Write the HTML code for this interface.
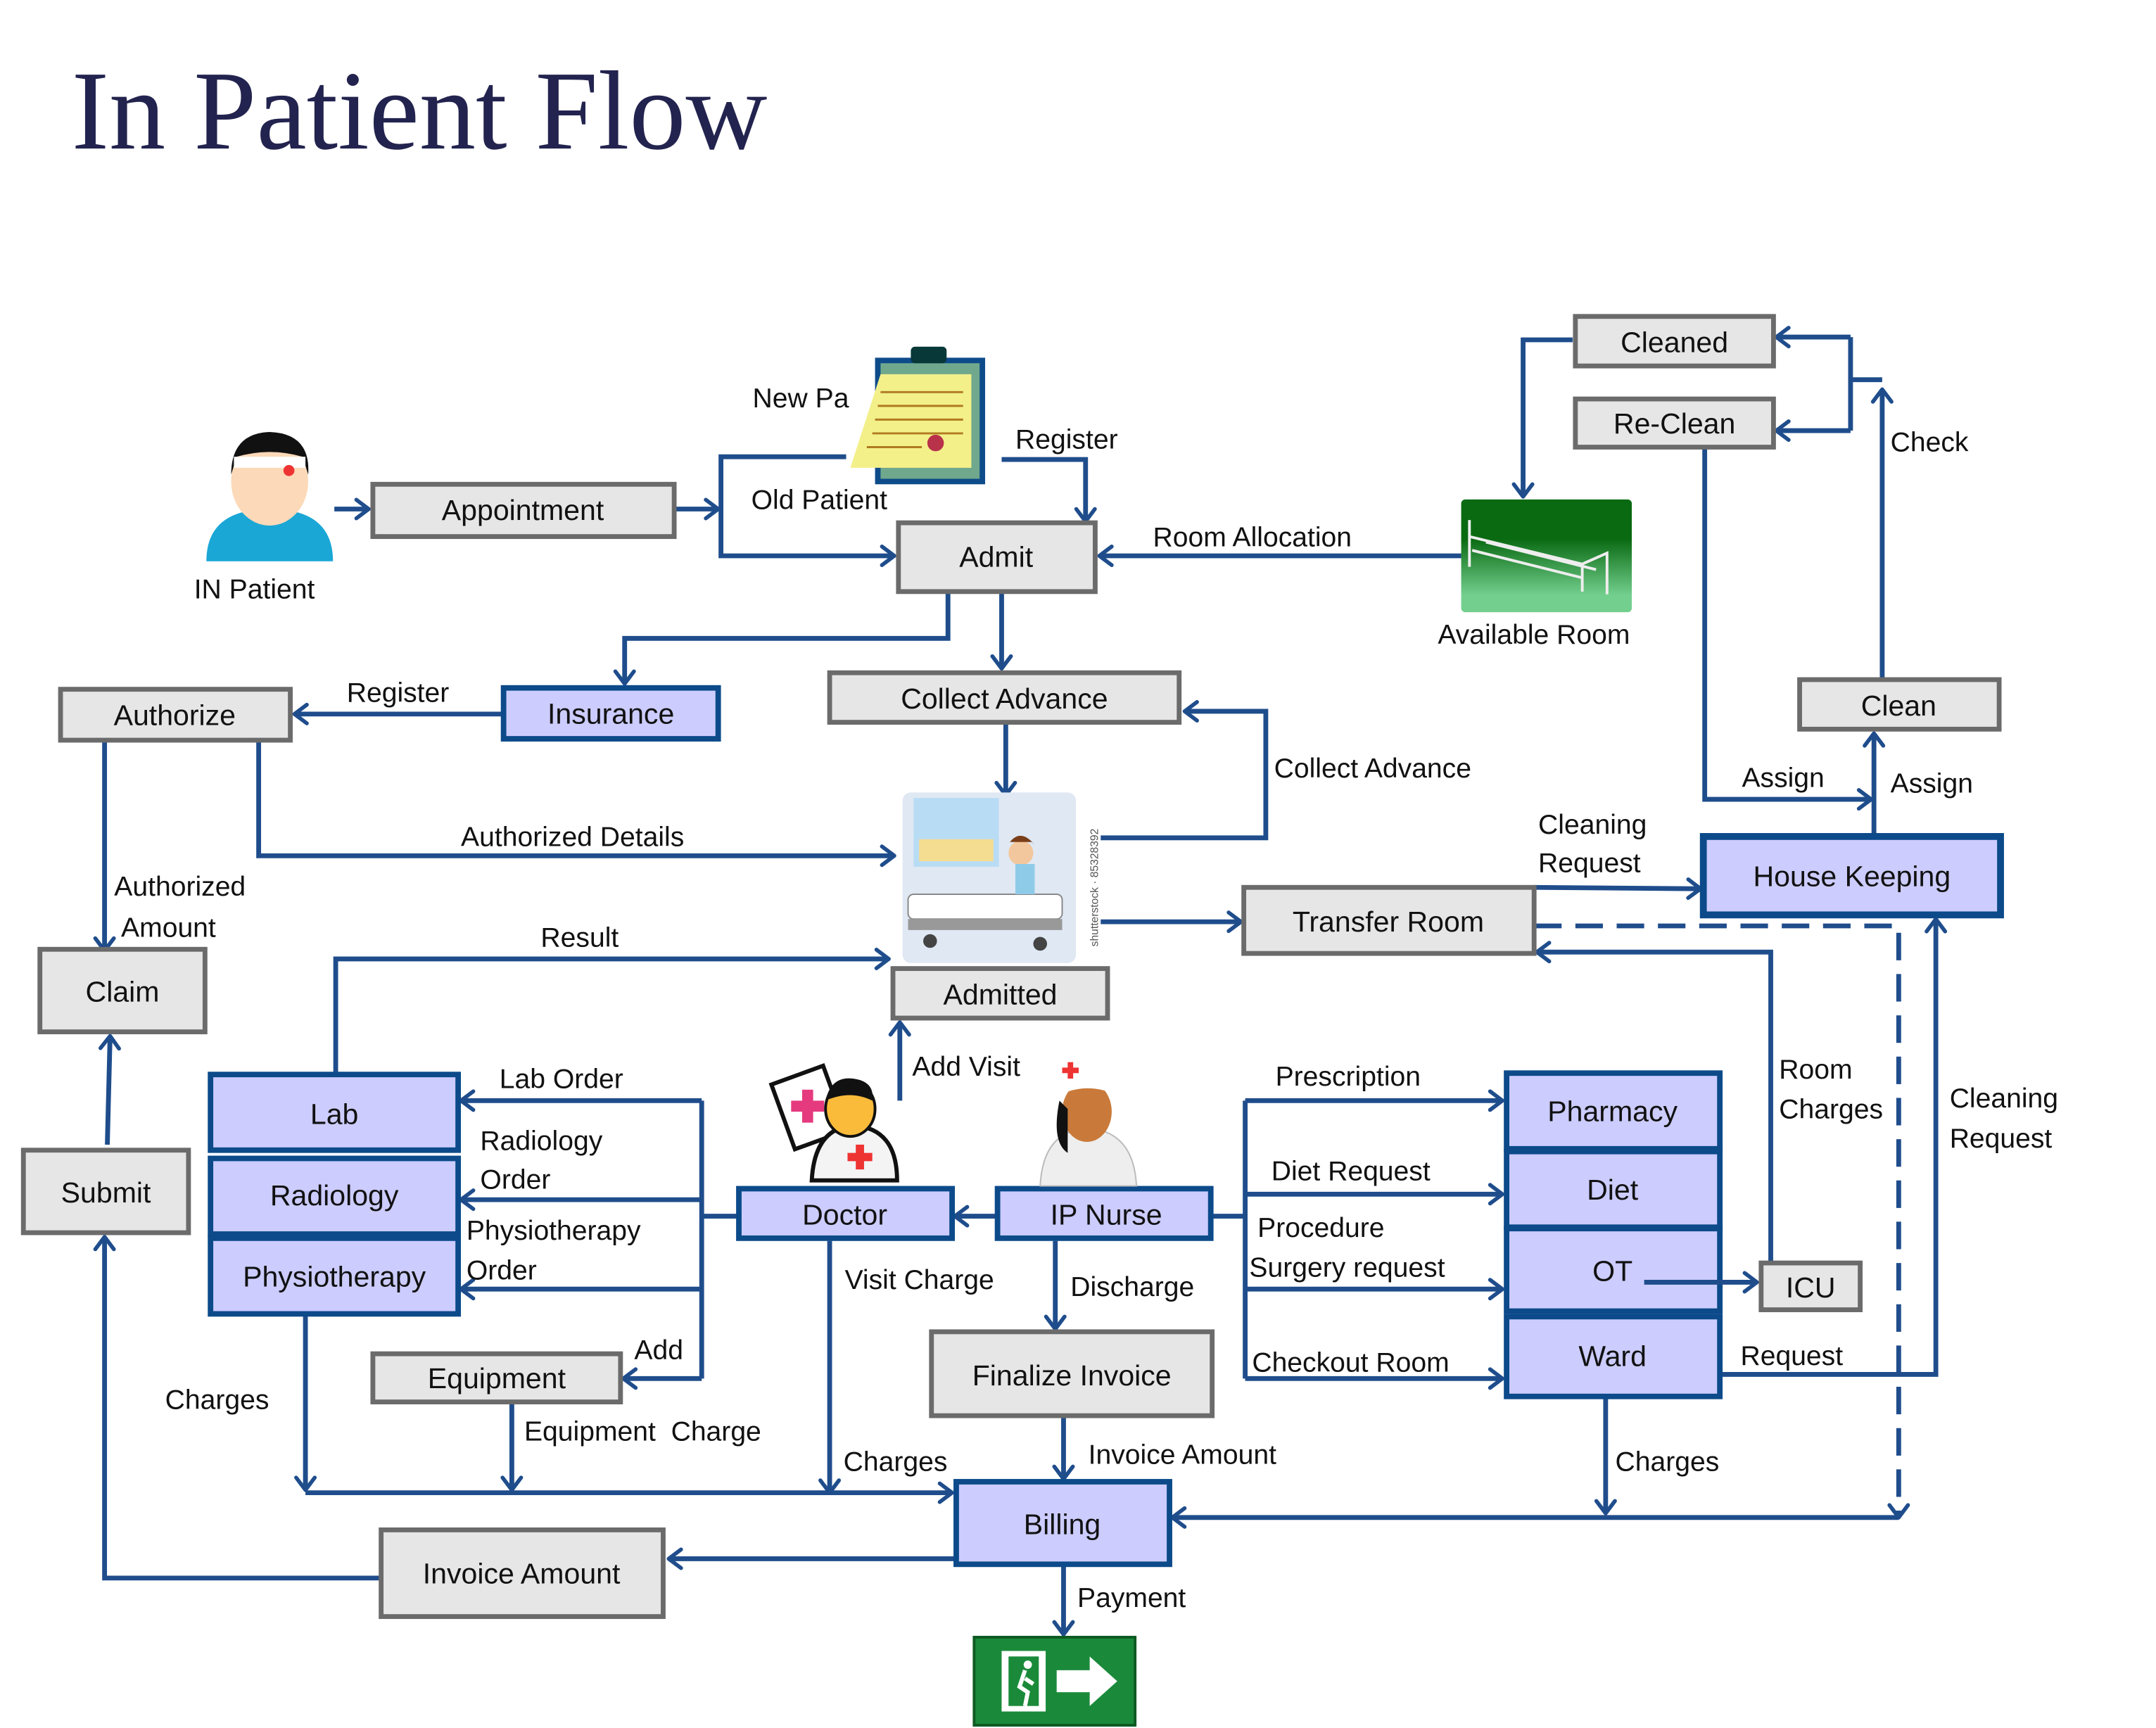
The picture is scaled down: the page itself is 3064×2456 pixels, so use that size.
<!DOCTYPE html>
<html><head><meta charset="utf-8"><style>
html,body{margin:0;padding:0;background:#fff;}
svg{display:block;}
text{font-family:"Liberation Sans",sans-serif;font-size:20px;fill:#111;}
.g{fill:#e6e6e6;stroke:#6b6b6b;stroke-width:3.5;}
.b{fill:#ccccff;stroke:#0c4a8a;stroke-width:4;}
.l{fill:none;stroke:#1f4d8c;stroke-width:3.5;}
.c{text-anchor:middle;font-size:21px;}
</style></head><body>
<svg width="3064" height="2456" viewBox="0 0 1567 1256" preserveAspectRatio="none" xmlns="http://www.w3.org/2000/svg">
<defs>
<marker id="a" viewBox="0 0 20 24" refX="17" refY="12" markerWidth="15" markerHeight="20" orient="auto" markerUnits="userSpaceOnUse">
<path d="M5,3 L17,12 L5,21" fill="none" stroke="#1f4d8c" stroke-width="3.8" stroke-linecap="round" stroke-linejoin="round"/>
</marker>
</defs>
<text x="52" y="108" style="font-family:'Liberation Serif',serif;font-size:82px;fill:#23234f;">In Patient Flow</text>

<g>
<polyline class="l" points="243,370 268,370" marker-end="url(#a)"/>
<polyline class="l" points="490,370 522,370" marker-end="url(#a)"/>
<polyline class="l" points="615,332 524,332 524,404 650,404" marker-end="url(#a)"/>
<polyline class="l" points="728,334 789,334 789,379" marker-end="url(#a)"/>
<polyline class="l" points="1062,404 799,404" marker-end="url(#a)"/>
<polyline class="l" points="689,430 689,464 454,464 454,497" marker-end="url(#a)"/>
<polyline class="l" points="728,430 728,486" marker-end="url(#a)"/>
<polyline class="l" points="731,525 731,578" marker-end="url(#a)"/>
<polyline class="l" points="800,609 920,609 920,517 861,517" marker-end="url(#a)"/>
<polyline class="l" points="366,519 214,519" marker-end="url(#a)"/>
<polyline class="l" points="76,538 76,691" marker-end="url(#a)"/>
<polyline class="l" points="188,538 188,622 650,622" marker-end="url(#a)"/>
<polyline class="l" points="244,781 244,697 646,697" marker-end="url(#a)"/>
<polyline class="l" points="654,800 654,743" marker-end="url(#a)"/>
<polyline class="l" points="78,832 80,753" marker-end="url(#a)"/>
<polyline class="l" points="800,670 902,670" marker-end="url(#a)"/>
<polyline class="l" points="1115,645 1236,646" marker-end="url(#a)"/>
<polyline class="l" points="1115,673 1380,673 1380,1103" stroke-dasharray="20,10" marker-end="url(#a)"/>
<polyline class="l" points="1362,608 1362,533" marker-end="url(#a)"/>
<polyline class="l" points="1368,494 1368,283" marker-end="url(#a)"/>
<polyline class="l" points="1368,276 1345,276"/>
<polyline class="l" points="1345,245 1345,313"/>
<polyline class="l" points="1345,245 1291,245" marker-end="url(#a)"/>
<polyline class="l" points="1345,313 1291,313" marker-end="url(#a)"/>
<polyline class="l" points="1143,247 1107,247 1107,361" marker-end="url(#a)"/>
<polyline class="l" points="1239,325 1239,581 1360,581" marker-end="url(#a)"/>
<polyline class="l" points="1287,918 1287,692 1117,692" marker-end="url(#a)"/>
<polyline class="l" points="1210,999 1407,999 1407,668" marker-end="url(#a)"/>
<polyline class="l" points="536,884 510,884"/>
<polyline class="l" points="510,800 510,1002"/>
<polyline class="l" points="510,800 335,800" marker-end="url(#a)"/>
<polyline class="l" points="510,872 335,872" marker-end="url(#a)"/>
<polyline class="l" points="510,937 335,937" marker-end="url(#a)"/>
<polyline class="l" points="510,1002 453,1002" marker-end="url(#a)"/>
<polyline class="l" points="725,884 694,884" marker-end="url(#a)"/>
<polyline class="l" points="767,902 767,966" marker-end="url(#a)"/>
<polyline class="l" points="880,884 905,884"/>
<polyline class="l" points="905,800 905,1002"/>
<polyline class="l" points="905,800 1092,800" marker-end="url(#a)"/>
<polyline class="l" points="905,868 1092,868" marker-end="url(#a)"/>
<polyline class="l" points="905,937 1092,937" marker-end="url(#a)"/>
<polyline class="l" points="905,1002 1092,1002" marker-end="url(#a)"/>
<polyline class="l" points="222,955 222,1083" marker-end="url(#a)"/>
<polyline class="l" points="372,1019 372,1083" marker-end="url(#a)"/>
<polyline class="l" points="603,902 603,1085" marker-end="url(#a)"/>
<polyline class="l" points="222,1085 692,1085" marker-end="url(#a)"/>
<polyline class="l" points="773,1029 773,1075" marker-end="url(#a)"/>
<polyline class="l" points="1167,1015 1167,1100" marker-end="url(#a)"/>
<polyline class="l" points="1380,1103 852,1103" marker-end="url(#a)"/>
<polyline class="l" points="695,1133 486,1133" marker-end="url(#a)"/>
<polyline class="l" points="277,1147 76,1147 76,899" marker-end="url(#a)"/>
<polyline class="l" points="773,1137 773,1188" marker-end="url(#a)"/>
</g>

<rect class="g" x="271" y="352" width="219" height="38"/><text class="c" x="380" y="378">Appointment</text>
<rect class="g" x="653" y="380" width="143" height="50"/><text class="c" x="724" y="412">Admit</text>
<rect class="g" x="603" y="489" width="254" height="36"/><text class="c" x="730" y="515">Collect Advance</text>
<rect class="b" x="366" y="500" width="156" height="37"/><text class="c" x="444" y="526">Insurance</text>
<rect class="g" x="44" y="501" width="167" height="37"/><text class="c" x="127" y="527">Authorize</text>
<rect class="g" x="29" y="690" width="120" height="60"/><text class="c" x="89" y="728">Claim</text>
<rect class="g" x="17" y="836" width="120" height="60"/><text class="c" x="77" y="874">Submit</text>
<rect class="g" x="649" y="704" width="156" height="36"/><text class="c" x="727" y="730">Admitted</text>
<rect class="g" x="904" y="645" width="211" height="48"/><text class="c" x="1009" y="677">Transfer Room</text>
<rect class="b" x="1238" y="608" width="216" height="57" style="stroke-width:5"/><text class="c" x="1346" y="644">House Keeping</text>
<rect class="g" x="1308" y="494" width="145" height="36"/><text class="c" x="1380" y="520">Clean</text>
<rect class="g" x="1145" y="230" width="144" height="36"/><text class="c" x="1217" y="256">Cleaned</text>
<rect class="g" x="1145" y="290" width="144" height="35"/><text class="c" x="1217" y="315">Re-Clean</text>
<rect class="g" x="1280" y="918" width="72" height="34"/><text class="c" x="1316" y="943">ICU</text>
<rect class="b" x="153" y="781" width="180" height="55"/><text class="c" x="243" y="817">Lab</text>
<rect class="b" x="153" y="842" width="180" height="55"/><text class="c" x="243" y="876">Radiology</text>
<rect class="b" x="153" y="900" width="180" height="55"/><text class="c" x="243" y="935">Physiotherapy</text>
<rect class="g" x="271" y="984" width="180" height="35"/><text class="c" x="361" y="1009">Equipment</text>
<rect class="b" x="537" y="864" width="155" height="36"/><text class="c" x="614" y="890">Doctor</text>
<rect class="b" x="725" y="864" width="155" height="36"/><text class="c" x="804" y="890">IP Nurse</text>
<rect class="g" x="677" y="968" width="204" height="61"/><text class="c" x="779" y="1007">Finalize Invoice</text>
<rect class="b" x="695" y="1077" width="155" height="60"/><text class="c" x="772" y="1115">Billing</text>
<rect class="g" x="277" y="1112" width="205" height="63"/><text class="c" x="379" y="1151">Invoice Amount</text>
<rect class="b" x="1095" y="780" width="155" height="55"/><text class="c" x="1172" y="815">Pharmacy</text>
<rect class="b" x="1095" y="837" width="155" height="55"/><text class="c" x="1172" y="872">Diet</text>
<rect class="b" x="1095" y="893" width="155" height="60"/><text class="c" x="1172" y="931">OT</text>
<rect class="b" x="1095" y="957" width="155" height="58"/><text class="c" x="1172" y="993">Ward</text>
<polyline class="l" points="1195,932 1277,932" marker-end="url(#a)"/>

<text x="141" y="435">IN Patient</text>
<text x="547" y="296">New Pa</text>
<text x="546" y="370">Old Patient</text>
<text x="738" y="326">Register</text>
<text x="838" y="397">Room Allocation</text>
<text x="1045" y="468">Available Room</text>
<text x="252" y="510">Register</text>
<text x="926" y="565">Collect Advance</text>
<text x="335" y="615">Authorized Details</text>
<text x="83" y="651">Authorized</text>
<text x="88" y="681">Amount</text>
<text x="393" y="688">Result</text>
<text x="663" y="782">Add Visit</text>
<text x="1374" y="328">Check</text>
<text x="1266" y="572">Assign</text>
<text x="1374" y="576">Assign</text>
<text x="1118" y="606">Cleaning</text>
<text x="1118" y="634">Request</text>
<text x="1293" y="784">Room</text>
<text x="1293" y="813">Charges</text>
<text x="1417" y="805">Cleaning</text>
<text x="1417" y="834">Request</text>
<text x="363" y="791">Lab Order</text>
<text x="349" y="836">Radiology</text>
<text x="349" y="864">Order</text>
<text x="339" y="901">Physiotherapy</text>
<text x="339" y="930">Order</text>
<text x="461" y="988">Add</text>
<text x="120" y="1024">Charges</text>
<text x="381" y="1047">Equipment&#160; Charge</text>
<text x="614" y="937">Visit Charge</text>
<text x="778" y="942">Discharge</text>
<text x="613" y="1069">Charges</text>
<text x="791" y="1064">Invoice Amount</text>
<text x="783" y="1168">Payment</text>
<text x="927" y="789">Prescription</text>
<text x="924" y="858">Diet Request</text>
<text x="914" y="899">Procedure</text>
<text x="908" y="928">Surgery request</text>
<text x="910" y="997">Checkout Room</text>
<text x="1265" y="992">Request</text>
<text x="1174" y="1069">Charges</text>

<g>
<path d="M150,408 Q150,370 196,370 Q242,370 242,408 Z" fill="#1aa7d6"/>
<ellipse cx="196" cy="350" rx="28" ry="32" fill="#fcd9b8"/>
<path d="M168,345 Q168,315 196,314 Q226,315 224,345 L220,332 Q196,325 172,332 Z" fill="#111"/>
<rect x="170" y="332" width="52" height="8" fill="#fff"/>
<circle cx="210" cy="342" r="4" fill="#e33"/>
</g>
<g>
<rect x="638" y="262" width="76" height="88" fill="#6fa88c" stroke="#0e4b8a" stroke-width="4"/>
<rect x="662" y="252" width="26" height="12" rx="3" fill="#083838"/>
<path d="M640,272 L706,272 L706,340 L618,340 Z" fill="#f3f08a"/>
<g stroke="#b07a20" stroke-width="1.5"><line x1="640" y1="285" x2="700" y2="285"/><line x1="638" y1="295" x2="700" y2="295"/><line x1="636" y1="305" x2="700" y2="305"/><line x1="634" y1="315" x2="700" y2="315"/><line x1="630" y1="325" x2="670" y2="325"/></g>
<circle cx="680" cy="322" r="6" fill="#b8324a"/>
</g>
<defs><linearGradient id="gr" x1="0" y1="0" x2="0" y2="1"><stop offset="0.35" stop-color="#0a6a12"/><stop offset="0.85" stop-color="#73cf8e"/></linearGradient></defs>
<rect x="1062" y="363" width="124" height="82" rx="3" fill="url(#gr)"/>
<g stroke="#eee" stroke-width="2" fill="none"><path d="M1068,378 L1068,412 M1068,390 L1150,410 L1168,402 L1168,432 M1080,394 L1160,414 M1150,410 L1150,430 M1070,400 L1150,420"/></g>
<g>
<rect x="656" y="576" width="126" height="124" rx="6" fill="#dfe8f3"/>
<rect x="664" y="580" width="62" height="50" fill="#b9dcf5"/>
<rect x="668" y="610" width="54" height="16" fill="#f4dd90"/>
<rect x="660" y="650" width="112" height="18" rx="4" fill="#fff" stroke="#888"/>
<rect x="660" y="668" width="112" height="8" fill="#999"/>
<circle cx="742" cy="620" r="9" fill="#f3c79d"/>
<path d="M734,612 Q742,602 752,614 L750,612 Z" fill="#7a3e18"/>
<rect x="738" y="628" width="14" height="22" fill="#8ecbe8"/>
<circle cx="676" cy="684" r="5" fill="#444"/><circle cx="756" cy="686" r="5" fill="#444"/>
<text x="798" y="688" transform="rotate(-90 798 688)" style="font-size:8px;fill:#555">shutterstock · 85328392</text>
</g>
<g>
<rect x="568" y="780" width="40" height="50" transform="rotate(-20 588 805)" fill="#fff" stroke="#111" stroke-width="3"/>
<path d="M575,800 l8,0 l0,-8 l8,0 l0,8 l8,0 l0,8 l-8,0 l0,8 l-8,0 l0,-8 l-8,0 Z" fill="#e53a7e"/>
<path d="M590,858 Q592,820 620,818 Q652,820 652,858 Z" fill="#f4f4f4" stroke="#111" stroke-width="3"/>
<ellipse cx="618" cy="806" rx="18" ry="20" fill="#fbbb3a" stroke="#111" stroke-width="2"/>
<path d="M600,800 Q604,782 620,784 Q636,786 634,800 Q618,792 600,800 Z" fill="#111"/>
<path d="M616,838 l6,0 l0,-6 l6,0 l0,6 l6,0 l0,6 l-6,0 l0,6 l-6,0 l0,-6 l-6,0 Z" fill="#e33"/>
</g>
<g>
<path d="M756,862 Q758,822 790,820 Q824,822 826,862 Z" fill="#eee" stroke="#bbb"/>
<ellipse cx="790" cy="808" rx="18" ry="22" fill="#c97a3a"/>
<path d="M770,796 Q772,772 790,772 Q810,772 812,796 Q790,786 770,796 Z" fill="#fff"/>
<path d="M770,800 Q764,830 776,838 L776,806 Z" fill="#111"/>
<path d="M772,776 l4,0 0,-4 4,0 0,4 4,0 0,4 -4,0 0,4 -4,0 0,-4 -4,0Z" fill="#e33"/>
</g>
<g>
<rect x="708" y="1190" width="117" height="64" fill="#1a8a3a" stroke="#0d5a22" stroke-width="2"/>
<rect x="728" y="1200" width="32" height="44" fill="#fff"/>
<rect x="733" y="1204" width="22" height="36" fill="#1a8a3a"/>
<path d="M768,1214 L792,1214 L792,1204 L812,1222 L792,1240 L792,1230 L768,1230 Z" fill="#fff"/>
<circle cx="747" cy="1210" r="3" fill="#fff"/>
<path d="M745,1214 l-4,12 l6,4 l-2,10 M745,1220 l6,4" stroke="#fff" stroke-width="3" fill="none"/>
</g>
</svg>
</body></html>
